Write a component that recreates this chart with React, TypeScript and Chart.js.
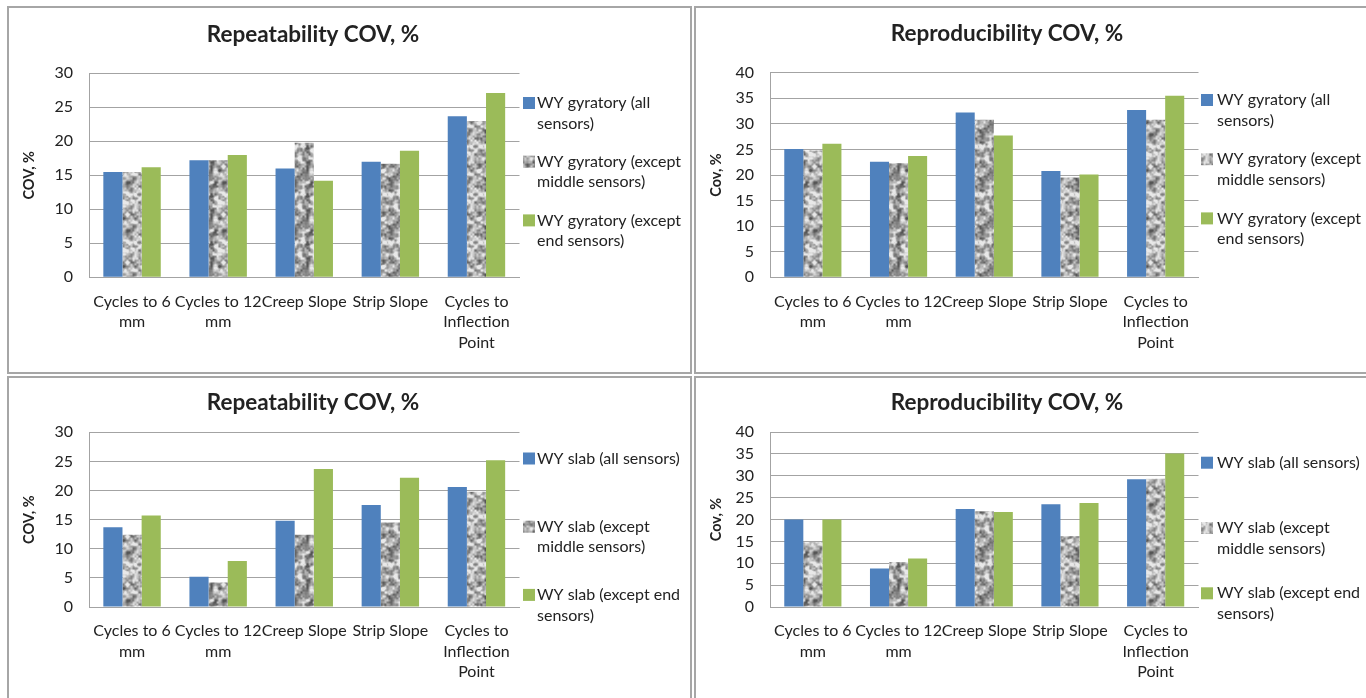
import React, { useEffect, useRef } from 'react';
import { Chart, registerables } from 'chart.js';

Chart.register(...registerables);

// ---------- data ----------
const categories: (string | string[])[] = [
  ['Cycles to 6', 'mm'],
  ['Cycles to 12', 'mm'],
  'Creep Slope',
  'Strip Slope',
  ['Cycles to', 'Inflection', 'Point'],
];

const gyrRepeatAll = [15.5, 17.2, 16.0, 17.0, 23.7];
const gyrRepeatExMid = [15.5, 17.2, 19.8, 16.7, 23.0];
const gyrRepeatExEnd = [16.2, 18.0, 14.2, 18.6, 27.1];

const gyrReproAll = [25.1, 22.6, 32.2, 20.8, 32.7];
const gyrReproExMid = [24.8, 22.3, 30.8, 19.5, 30.8];
const gyrReproExEnd = [26.1, 23.7, 27.7, 20.1, 35.5];

const slabRepeatAll = [13.7, 5.2, 14.8, 17.5, 20.6];
const slabRepeatExMid = [12.4, 4.2, 12.4, 14.5, 19.8];
const slabRepeatExEnd = [15.7, 7.9, 23.7, 22.2, 25.2];

const slabReproAll = [20.0, 8.8, 22.4, 23.5, 29.2];
const slabReproExMid = [14.8, 10.3, 21.9, 16.2, 29.3];
const slabReproExEnd = [20.0, 11.1, 21.7, 23.8, 35.1];

const gyrLegend = [
  ['WY gyratory (all', 'sensors)'],
  ['WY gyratory (except', 'middle sensors)'],
  ['WY gyratory (except', 'end sensors)'],
];
const slabLegend = [
  ['WY slab (all sensors)'],
  ['WY slab (except', 'middle sensors)'],
  ['WY slab (except end', 'sensors)'],
];

const repeatTicksMax = 30;
const reproTicksMax = 40;

// ---------- styling ----------
const FONT = 'Lato, "Open Sans", sans-serif';
const BLUE = '#4f81bd';
const GREEN = '#9bbb59';
const TEXT = '#222222';
const GRID = '#a3a3a3';

function makeTexture(): HTMLCanvasElement {
  const size = 48;
  const c = document.createElement('canvas');
  c.width = size;
  c.height = size;
  const g = c.getContext('2d')!;
  let s = 987654321;
  const rnd = () => {
    s = (Math.imul(s, 1103515245) + 12345) >>> 0;
    return (s >>> 8) / 16777216;
  };
  const mk = (n: number) => Array.from({ length: n * n }, () => rnd());
  const n1 = 12, n2 = 24;
  const l1 = mk(n1), l2 = mk(n2);
  const sm = (t: number) => t * t * (3 - 2 * t);
  const sample = (lat: number[], n: number, x: number, y: number) => {
    const fx = (x / size) * n, fy = (y / size) * n;
    const x0 = Math.floor(fx), y0 = Math.floor(fy);
    const tx = sm(fx - x0), ty = sm(fy - y0);
    const a = lat[(y0 % n) * n + (x0 % n)];
    const b = lat[(y0 % n) * n + ((x0 + 1) % n)];
    const cc = lat[((y0 + 1) % n) * n + (x0 % n)];
    const d = lat[((y0 + 1) % n) * n + ((x0 + 1) % n)];
    return (a * (1 - tx) + b * tx) * (1 - ty) + (cc * (1 - tx) + d * tx) * ty;
  };
  const img = g.createImageData(size, size);
  for (let y = 0; y < size; y++) {
    for (let x = 0; x < size; x++) {
      const v = 0.65 * sample(l1, n1, x, y) + 0.35 * sample(l2, n2, x, y);
      let k = 58 + v * 240;
      k = Math.max(85, Math.min(232, k));
      const i = (y * size + x) * 4;
      img.data[i] = k;
      img.data[i + 1] = k;
      img.data[i + 2] = k;
      img.data[i + 3] = 255;
    }
  }
  g.putImageData(img, 0, 0);
  return c;
}

interface Panel {
  left: number; top: number; width: number; height: number;
  title: string; yTitle: string; yMax: number;
  series: number[][]; legend: string[][];
  chartL: number; chartT: number; chartR: number; chartB: number;
  titleX: number; titleY: number;
  boxX: number; textX: number; legendY: number; legendPitch: number;
}

const panels: Panel[] = [
  {
    left: 7, top: 6, width: 685, height: 368,
    title: 'Repeatability COV, %', yTitle: 'COV, %', yMax: repeatTicksMax,
    series: [gyrRepeatAll, gyrRepeatExMid, gyrRepeatExEnd], legend: gyrLegend,
    chartL: 89, chartT: 73.3, chartR: 519.5, chartB: 277.3,
    titleX: 313, titleY: 35,
    boxX: 523, textX: 537, legendY: 103, legendPitch: 58.7,
  },
  {
    left: 694, top: 6, width: 700, height: 368,
    title: 'Reproducibility COV, %', yTitle: 'Cov, %', yMax: reproTicksMax,
    series: [gyrReproAll, gyrReproExMid, gyrReproExEnd], legend: gyrLegend,
    chartL: 770, chartT: 72.7, chartR: 1198.5, chartB: 277.3,
    titleX: 1007, titleY: 34,
    boxX: 1201, textX: 1217, legendY: 100, legendPitch: 59.2,
  },
  {
    left: 7, top: 376, width: 685, height: 340,
    title: 'Repeatability COV, %', yTitle: 'COV, %', yMax: repeatTicksMax,
    series: [slabRepeatAll, slabRepeatExMid, slabRepeatExEnd], legend: slabLegend,
    chartL: 89, chartT: 432.3, chartR: 519.5, chartB: 607,
    titleX: 313, titleY: 403,
    boxX: 523, textX: 537, legendY: 458.5, legendPitch: 68.2,
  },
  {
    left: 694, top: 376, width: 700, height: 340,
    title: 'Reproducibility COV, %', yTitle: 'Cov, %', yMax: reproTicksMax,
    series: [slabReproAll, slabReproExMid, slabReproExEnd], legend: slabLegend,
    chartL: 770, chartT: 432, chartR: 1198.5, chartB: 607,
    titleX: 1007, titleY: 403,
    boxX: 1201, textX: 1217, legendY: 462.7, legendPitch: 65.3,
  },
];

function ChartPanel({ p }: { p: Panel }) {
  const ref = useRef<HTMLCanvasElement>(null);
  useEffect(() => {
    const canvas = ref.current!;
    const tex = makeTexture();
    const pctx = canvas.getContext('2d')!;
    const pattern = pctx.createPattern(tex, 'repeat')!;
    const fills: (string | CanvasPattern)[] = [BLUE, pattern, GREEN];

    const L = p.chartL - p.left;
    const T = p.chartT - p.top;
    const R = p.chartR - p.left;
    const B = p.chartB - p.top;

    const overlay = {
      id: 'overlay' + p.left + p.top,
      afterDraw(chart: any) {
        const ctx: CanvasRenderingContext2D = chart.ctx;
        ctx.save();
        ctx.fillStyle = TEXT;
        ctx.font = `bold 22.5px ${FONT}`;
        ctx.textAlign = 'center';
        ctx.textBaseline = 'middle';
        ctx.fillText(p.title, p.titleX - p.left, p.titleY - p.top);

        ctx.font = `16px ${FONT}`;
        ctx.textAlign = 'left';
        const lh = 20.5;
        p.legend.forEach((lines, i) => {
          const y0 = p.legendY - p.top + i * p.legendPitch;
          ctx.fillStyle = fills[i] as any;
          ctx.fillRect(p.boxX - p.left, y0 - 6, 12, 12);
          ctx.fillStyle = TEXT;
          lines.forEach((ln, j) => {
            ctx.fillText(ln, p.textX - p.left, y0 + j * lh);
          });
        });
        ctx.restore();
      },
    };

    const chart = new Chart(canvas, {
      type: 'bar',
      data: {
        labels: categories as any,
        datasets: p.series.map((d, i) => ({
          label: p.legend[i].join(' '),
          data: d,
          backgroundColor: fills[i] as any,
          borderWidth: 0,
          barPercentage: 1,
          categoryPercentage: 0.667,
        })),
      },
      options: {
        responsive: false,
        animation: false,
        devicePixelRatio: 1,
        layout: { padding: { left: 0, top: T, right: p.width - R, bottom: 0 } },
        plugins: {
          legend: { display: false },
          title: { display: false },
          tooltip: { enabled: false },
        },
        scales: {
          x: {
            grid: { display: false, drawTicks: false },
            border: { display: true, color: GRID, width: 1 },
            ticks: {
              color: TEXT,
              font: { family: FONT, size: 16, lineHeight: 1.28 },
              padding: 14,
              maxRotation: 0,
              autoSkip: false,
            },
            afterFit: (scale: any) => { scale.height = p.height - B; },
          },
          y: {
            min: 0,
            max: p.yMax,
            grid: { color: GRID, lineWidth: 1, drawTicks: false },
            border: { display: true, color: GRID, width: 1 },
            ticks: {
              stepSize: 5,
              autoSkip: false,
              color: TEXT,
              font: { family: FONT, size: 16 },
              padding: 16,
            },
            title: {
              display: true,
              text: p.yTitle,
              color: TEXT,
              font: { family: FONT, size: 14.5, weight: 'bold', lineHeight: 1.2 },
              padding: { top: 13.3, bottom: 0 },
            },
            afterFit: (scale: any) => { scale.width = L; },
          },
        },
      },
      plugins: [overlay],
    } as any);
    return () => chart.destroy();
  }, [p]);

  return (
    <>
      <canvas
        ref={ref}
        width={p.width}
        height={p.height}
        style={{ position: 'absolute', left: p.left, top: p.top, width: p.width, height: p.height }}
      />
      <div
        style={{
          position: 'absolute', left: p.left, top: p.top, width: p.width, height: p.height,
          border: '2px solid #a6a6a6', boxSizing: 'border-box', pointerEvents: 'none',
        }}
      />
    </>
  );
}

export default function App() {
  return (
    <div
      style={{
        position: 'fixed', left: 0, top: 0, width: 1366, height: 698,
        overflow: 'hidden', background: '#ffffff',
      }}
    >
      {panels.map((p, i) => <ChartPanel key={i} p={p} />)}
    </div>
  );
}
